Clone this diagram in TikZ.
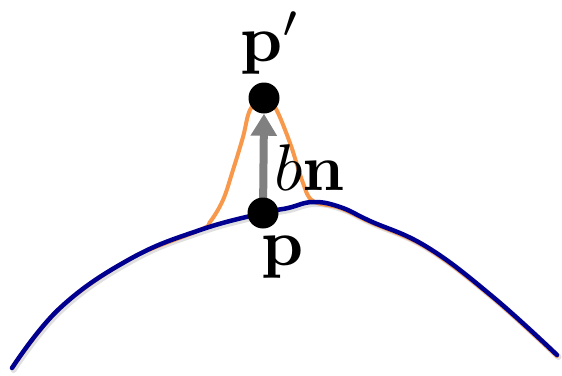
\documentclass[tikz,border=0pt]{standalone}
\usetikzlibrary{arrows.meta}
\definecolor{curveblue}{HTML}{000090}
\definecolor{bumporange}{HTML}{F7984A}
\definecolor{arrowgray}{HTML}{808080}
\tikzset{
  dot/.style={circle,fill=black,inner sep=0pt,minimum size=31pt},
  lbl/.style={inner sep=0pt,scale=6.6},
  basecurve/.style={draw=curveblue,line width=4.5pt,line cap=round,line join=round},
  bumpcurve/.style={draw=bumporange,line width=4pt,line cap=round,line join=round},
  shadowcurve/.style={draw=black,opacity=0.12,line width=6pt,line cap=round,line join=round},
  normalarrow/.style={draw=arrowgray,line width=8pt,-{Triangle[width=25pt,length=22pt]}}
}
\begin{document}
\begin{tikzpicture}[x=1pt,y=-1pt]
\useasboundingbox (0,0) rectangle (562,375);
% soft shadow under the curve
\draw[shadowcurve,shift={(1.5,2)}] plot[smooth,tension=0.7] coordinates {(12,368) (60,308) (130,259) (200,230) (263,213) (288,208) (313,202) (340,207) (370,221) (427,247) (493,297) (557,355)};
% orange bumped curve
\draw[bumpcurve] plot[smooth,tension=0.6] coordinates {(12,368) (60,308) (130,259) (200,230) (210,222) (223,200) (233,170) (243,137) (250,110) (263,96) (275,107) (290,143) (303,183) (313,201) (340,208) (370,222) (427,248) (493,298) (557,356)};
% blue base curve
\draw[basecurve] plot[smooth,tension=0.7] coordinates {(12,368) (60,308) (130,259) (200,230) (263,213) (288,208) (313,202) (340,207) (370,221) (427,247) (493,297) (557,355)};
\coordinate (pc) at (263,213);
\node[dot] (pp) at (264,98) {};
\draw[normalarrow] (pc) -- (pp.south);
\node[dot] (p) at (pc) {};
\node[lbl,anchor=base west] (lp) at (239,61) {$\mathbf{p}'$};
\node[lbl,anchor=base west] (lq) at (260,265) {$\mathbf{p}$};
\node[lbl,anchor=base west] (lbn) at (273,190) {$b\mathbf{n}$};
\end{tikzpicture}
\end{document}
